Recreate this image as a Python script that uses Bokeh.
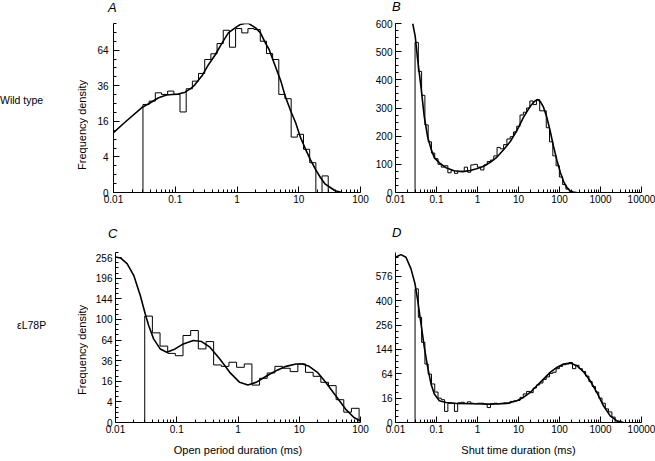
import numpy as np
from bokeh.plotting import figure
from bokeh.layouts import row, column
from bokeh.models import FixedTicker, CustomJSTickFormatter, Range1d, Div
from bokeh.embed import file_html
from bokeh.resources import INLINE

# ---------------- data ----------------
RES_MS = 0.03                      # first histogram bin edge (ms)

# A: wild type, open periods (sqrt-scaled frequency density)
A_BIN_DECADES = 0.1
A_HIST = [24.5, 26.4, 31.4, 30.4, 32.5, 30.4, 20.5, 34.0, 39.2, 44.8,
          55.9, 60.8, 70.1, 83.2, 66.7, 84.9, 80.5, 84.9, 83.9, 72.3,
          61.0, 55.9, 30.4, 27.8, 9.7, 10.7, 5.9, 2.8, 0.0, 0.87]
A_FIT_MS = [0.01, 0.0155, 0.0288, 0.0372, 0.0537, 0.0724, 0.0891, 0.112, 0.145, 0.186,
            0.209, 0.269, 0.347, 0.447, 0.575, 0.724, 0.933, 1.12, 1.35, 1.55,
            2.0, 2.4, 2.88, 3.31, 4.17, 5.13, 6.03, 7.41, 8.91, 10.7,
            12.9, 15.5, 18.6, 22.4, 26.9, 32.4, 38.9, 50.1]
A_FIT = [11.3, 15.7, 22.8, 24.9, 28.4, 30.0, 30.3, 30.6, 31.8, 34.7,
         36.8, 42.8, 51.8, 60.2, 70.7, 80.5, 85.6, 89.1, 90.3, 90.2,
         85.6, 80.5, 70.7, 64.6, 50.4, 39.2, 29.4, 21.0, 15.4, 9.5,
         5.9, 3.35, 1.72, 0.71, 0.22, 0.08, 0.01, 0.0]

# B: wild type, shut times (linear frequency density)
B_BIN_DECADES = 0.08
B_HIST = [533, 430, 345, 240, 180, 140, 120, 100, 90, 95,
          70, 78, 68, 74, 75, 90, 72, 98, 100, 90,
          80, 98, 110, 115, 130, 160, 155, 170, 190, 198,
          215, 235, 275, 285, 300, 325, 312, 330, 290, 290,
          230, 180, 130, 95, 55, 28, 12, 4, 1]
B_FIT_MS = [0.0263, 0.0302, 0.0347, 0.0417, 0.0501, 0.0603, 0.0741, 0.0891, 0.1175, 0.170,
            0.269, 0.437, 0.661, 0.955, 1.41, 2.04, 2.95, 4.27, 6.31, 9.12,
            13.2, 19.1, 25.1, 29.5, 33.9, 40.7, 49.0, 58.9, 70.8, 87.1,
            105, 126, 151, 182, 219, 263]
B_FIT = [600, 555, 472, 377, 271, 200, 153, 123, 105, 88,
         77, 74, 78, 84, 93, 107, 125, 151, 181, 220,
         267, 305, 325, 330, 323, 303, 267, 220, 166, 113,
         71, 39, 18, 6, 1, 0]

# C: eL78P, open periods (sqrt-scaled)
C_BIN_DECADES = 0.125
C_HIST = [106.6, 75.7, 55.0, 45.0, 42.0, 71.3, 79.7, 51.0, 61.7, 31.2,
          29.7, 34.2, 28.7, 32.3, 13.2, 18.4, 23.1, 29.7, 27.7, 24.4,
          32.3, 23.7, 20.1, 15.2, 12.8, 4.9, 1.0, 1.9]
C_FIT_MS = [0.01, 0.01205, 0.01545, 0.01982, 0.0254, 0.0306, 0.0348, 0.0419, 0.0537, 0.0689,
            0.094, 0.128, 0.186, 0.254, 0.348, 0.505, 0.733, 1.064, 1.452, 1.98,
            2.88, 4.19, 6.08, 8.83, 11.3, 14.5, 19.8, 27.0, 39.4, 57.1, 78.0, 100]
C_FIT = [258, 255, 238, 204, 152, 111, 88.7, 65.9, 51, 46.5,
         51, 58.2, 63.3, 61.7, 53.4, 38.1, 23.7, 15.2, 13.2, 15.2,
         20.1, 25.3, 29.7, 32.3, 32.3, 29.7, 23.7, 15.2, 6.7, 1.7, 0.24, 0.03]

# D: eL78P, shut times (sqrt-scaled)
D_BIN_DECADES = 0.08
D_HIST = [481, 298, 173, 92, 63, 40, 25, 16, 14, 3.3,
          10, 10, 3.3, 10.5, 11, 10, 11.5, 10, 9.5, 10,
          10, 9, 6, 9.5, 10, 9.5, 10, 10.5, 10, 12,
          12.5, 13, 17, 22, 26, 24, 32, 38, 42, 50,
          56, 65, 68, 78, 85, 90, 92, 97, 78, 88,
          78, 70, 58, 45, 35, 25, 16, 10, 5, 3, 0.8]
D_FIT_MS = [0.01, 0.0136, 0.018, 0.0239, 0.0299, 0.0348, 0.0419, 0.0505, 0.061, 0.0735,
            0.0885, 0.117, 0.171, 0.313, 0.798, 2.04, 5.19, 9.1, 13.2, 19.3,
            28.0, 40.7, 59.2, 86.1, 125, 182, 265, 385, 560, 815,
            1183, 1722, 2500, 3640]
D_FIT = [736, 759, 736, 636, 518, 401, 262, 152, 82, 40,
         21.8, 12.7, 10.8, 9.8, 9.4, 9.1, 9.8, 12.7, 16.9, 24.3,
         36.3, 50.7, 67.6, 81.7, 92, 95.1, 86.8, 69.4, 46.9, 24.3,
         7.5, 1.2, 0.07, 0]

# tick labels
A_YTICKS = [0, 4, 16, 36, 64]
B_YTICKS = [0, 100, 200, 300, 400, 500, 600]
C_YTICKS = [0, 4, 16, 36, 64, 100, 144, 196, 256]
D_YTICKS = [0, 16, 64, 144, 256, 400, 576]
OPEN_DECADES = [0.01, 0.1, 1, 10, 100]
SHUT_DECADES = [0.01, 0.1, 1, 10, 100, 1000, 10000]

FONT = "Liberation Sans"


def hist_outline(start, width_dec, counts):
    edges = start * 10 ** (width_dec * np.arange(len(counts) + 1))
    xs = [edges[0]]
    ys = [0.0]
    for i, c in enumerate(counts):
        xs += [edges[i], edges[i + 1]]
        ys += [c, c]
    xs.append(edges[-1])
    ys.append(0.0)
    return np.array(xs), np.array(ys)


def minor_log(decades):
    out = []
    for d in decades[:-1]:
        out += [k * d for k in range(2, 10)]
    return out


def panel(width, height, bl, br, bt, bb, decades, ytop, sqrt_y, yticks, yminor_step,
          hist, bin_dec, fit_x, fit_y, xlabel=None, ylabel_std=5):
    p = figure(width=width, height=height, x_axis_type="log",
               x_range=Range1d(decades[0], decades[-1]), y_range=Range1d(0, ytop),
               output_backend="svg", toolbar_location=None)
    p.min_border = 0
    p.min_border_left = bl
    p.min_border_right = br
    p.min_border_top = bt
    p.min_border_bottom = bb
    p.outline_line_color = None
    p.xgrid.visible = False
    p.ygrid.visible = False
    p.background_fill_color = "white"
    p.border_fill_color = "white"

    f = np.sqrt if sqrt_y else (lambda v: np.asarray(v, dtype=float))
    hx, hy = hist_outline(RES_MS, bin_dec, hist)
    p.line(hx, f(hy), line_color="black", line_width=1)
    p.line(fit_x, f(np.asarray(fit_y, dtype=float)), line_color="black", line_width=1.6)

    p.xaxis.ticker = FixedTicker(ticks=decades, minor_ticks=minor_log(decades))
    p.xaxis.formatter = CustomJSTickFormatter(code="return tick.toString();")
    if sqrt_y:
        majors = [float(np.sqrt(t)) for t in yticks]
        p.yaxis.formatter = CustomJSTickFormatter(code="return Math.round(tick*tick).toString();")
    else:
        majors = yticks
    minors = list(np.arange(0, ytop + 1e-9, yminor_step))
    p.yaxis.ticker = FixedTicker(ticks=majors, minor_ticks=minors)

    for ax in (p.xaxis[0], p.yaxis[0]):
        ax.axis_line_color = "black"
        ax.axis_line_width = 1
        ax.major_tick_line_color = "black"
        ax.minor_tick_line_color = "black"
        ax.major_tick_in = 6
        ax.major_tick_out = 0
        ax.minor_tick_in = 3
        ax.minor_tick_out = 0
        ax.major_label_text_font = FONT
        ax.major_label_text_font_size = "10px"
        ax.major_label_text_color = "black"
        ax.axis_label_text_font = FONT
        ax.axis_label_text_font_size = "11px"
        ax.axis_label_text_font_style = "normal"
        ax.axis_label_text_color = "black"
    p.xaxis.major_label_standoff = 2
    p.yaxis.major_label_standoff = ylabel_std
    if xlabel is not None:
        p.xaxis.axis_label = xlabel
        p.xaxis.axis_label_standoff = 8
    return p


def side_column(width, height, label, label_top, label_left, ylab_top):
    html = (
        '<div style="position:relative; width:%dpx; height:%dpx;">'
        '<div style="position:absolute; top:%dpx; left:%dpx; font-family:\'Liberation Sans\';'
        ' font-size:10.5px; line-height:12px; color:black; white-space:nowrap;">%s</div>'
        '<div style="position:absolute; top:%dpx; left:76px; writing-mode:vertical-rl;'
        ' transform:rotate(180deg); font-family:\'Liberation Sans\'; font-size:11px;'
        ' line-height:12px; color:black; white-space:nowrap;">Frequency density</div>'
        '</div>' % (width, height, label_top, label_left, label, ylab_top))
    return Div(text=html, width=width, height=height, margin=0)


def letter_strip(height, letters):
    spans = "".join(
        '<span style="position:absolute; left:%dpx; top:%dpx; font-family:\'Liberation Sans\';'
        ' font-size:13px; line-height:13px; font-style:italic; color:black;">%s</span>'
        % (left, top, txt) for txt, left, top in letters)
    html = '<div style="position:relative; width:655px; height:%dpx;">%s</div>' % (height, spans)
    return Div(text=html, width=655, height=height, margin=0)


A_TOP = 9.5
C_TOP = 16.5
D_TOP = 27.9
LW = 92  # width of the left label column

pA = panel(370 - LW, 200, 113 - LW, 10, 8, 23, OPEN_DECADES, A_TOP, True, A_YTICKS, 0.5,
           A_HIST, A_BIN_DECADES, A_FIT_MS, A_FIT, ylabel_std=5)
pB = panel(285, 200, 25, 14, 8, 23, SHUT_DECADES, 600, False, B_YTICKS, 25,
           B_HIST, B_BIN_DECADES, B_FIT_MS, B_FIT, ylabel_std=3)
pC = panel(370 - LW, 216, 113 - LW, 10, 7, 39, OPEN_DECADES, C_TOP, True, C_YTICKS, 0.5,
           C_HIST, C_BIN_DECADES, C_FIT_MS, C_FIT, ylabel_std=3,
           xlabel="Open period duration (ms)")
pD = panel(285, 216, 25, 14, 7, 39, SHUT_DECADES, D_TOP, True, D_YTICKS, 1.0,
           D_HIST, D_BIN_DECADES, D_FIT_MS, D_FIT, ylabel_std=3,
           xlabel="Shut time duration (ms)")

top_strip = letter_strip(15, [("A", 108, 1), ("B", 392, 0)])
mid_strip = letter_strip(30, [("C", 108, 12), ("D", 392, 11)])

sideA = side_column(LW, 200, "Wild type", 79, 0, 65)
sideC = side_column(LW, 216, "\u03b5L78P", 74, 17, 60)

layout = column(top_strip,
                row(sideA, pA, pB, spacing=0),
                mid_strip,
                row(sideC, pC, pD, spacing=0),
                spacing=0)

with open("out.html", "w") as fh:
    fh.write(file_html(layout, INLINE))
